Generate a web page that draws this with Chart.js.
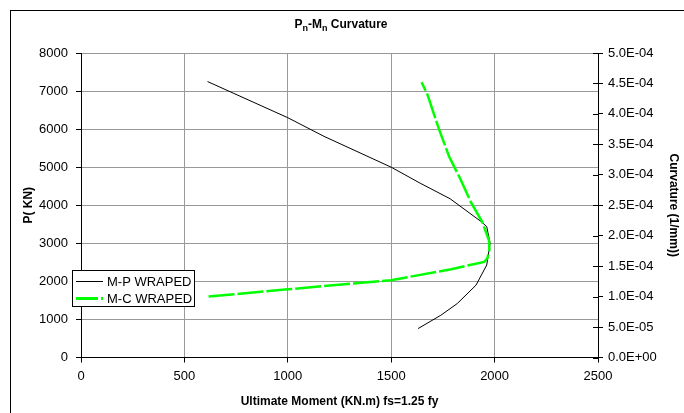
<!DOCTYPE html>
<html>
<head>
<meta charset="utf-8">
<script src="https://cdn.jsdelivr.net/npm/chart.js@4.4.0/dist/chart.umd.min.js"></script>
<style>
  html, body { margin: 0; padding: 0; background: #fff; }
  #wrap { width: 684px; height: 413px; }
</style>
</head>
<body>
<div id="wrap"><canvas id="chart" width="684" height="413"></canvas></div>
<script>
// M-P wraped curve: moment (KN.m) vs axial load P (KN)
const momentMP = [612, 1000, 1175, 1500, 1640, 1785, 1935, 1962, 1978, 1962, 1910, 1820, 1740, 1630];
const loadMP = [7250, 6300, 5810, 5000, 4580, 4170, 3570, 3440, 3000, 2430, 1900, 1420, 1110, 760];

// M-C wraped curve: moment (KN.m) vs curvature (1/mm), right axis
const momentMC = [617, 1000, 1500, 1790, 1950, 1965, 1975, 1973, 1941, 1884, 1836, 1780, 1731, 1675, 1647];
const curvMC = [1.00e-4, 1.12e-4, 1.27e-4, 1.45e-4, 1.57e-4, 1.63e-4, 1.77e-4, 1.92e-4, 2.22e-4, 2.56e-4, 2.92e-4, 3.30e-4, 3.75e-4, 4.32e-4, 4.52e-4];

const seriesNames = ['M-P WRAPED', 'M-C WRAPED'];
const xTitle = 'Ultimate Moment (KN.m) fs=1.25 fy';
const yTitle = 'P( KN)';
const y2Title = 'Curvature (1/mm))';

const FONT = '"Liberation Sans", Arial, sans-serif';
const GRID = '#999999';
const GREEN = '#00ff00';
const DASH = [26, 3];

// Excel style scientific label, e.g. 5.0E-04
function sciLabel(v) {
  if (Math.abs(v) < 1e-12) return '0.0E+00';
  const exp = Math.floor(Math.log10(Math.abs(v)) + 1e-9);
  const mant = v / Math.pow(10, exp);
  const sign = exp < 0 ? '-' : '+';
  return mant.toFixed(1) + 'E' + sign + String(Math.abs(exp)).padStart(2, '0');
}

// Frame, title with subscripts, cross tick marks and the legend box
const decorPlugin = {
  id: 'decor',
  beforeDraw(chart) {
    const ctx = chart.ctx;
    ctx.save();
    ctx.fillStyle = '#fff';
    ctx.fillRect(0, 0, chart.width, chart.height);
    ctx.restore();
  },
  afterDraw(chart) {
    const ctx = chart.ctx;
    ctx.save();
    ctx.strokeStyle = '#000';
    ctx.lineWidth = 1;
    ctx.strokeRect(10.5, 10.5, 900, 900);

    // right axis ticks cross the axis line
    const y2 = chart.scales.y2;
    ctx.beginPath();
    y2.ticks.forEach(t => {
      const py = Math.round(y2.getPixelForValue(t.value)) + 0.5;
      ctx.moveTo(y2.left - 5, py);
      ctx.lineTo(y2.left, py);
    });
    ctx.stroke();

    // title "Pn-Mn Curvature"
    const parts = [['P', 12, 0], ['n', 9, 3], ['-M', 12, 0], ['n', 9, 3], [' Curvature', 12, 0]];
    let total = 0;
    parts.forEach(p => {
      ctx.font = 'bold ' + p[1] + 'px ' + FONT;
      total += ctx.measureText(p[0]).width;
    });
    let x = 341 - total / 2;
    ctx.fillStyle = '#000';
    ctx.textBaseline = 'alphabetic';
    parts.forEach(p => {
      ctx.font = 'bold ' + p[1] + 'px ' + FONT;
      ctx.fillText(p[0], x, 28 + p[2]);
      x += ctx.measureText(p[0]).width;
    });

    // legend
    ctx.fillStyle = '#fff';
    ctx.fillRect(72.5, 270.5, 122, 36);
    ctx.strokeRect(72.5, 270.5, 122, 36);
    ctx.font = '13px ' + FONT;
    ctx.textBaseline = 'middle';
    ctx.fillStyle = '#000';

    ctx.beginPath();
    ctx.moveTo(76, 281.5);
    ctx.lineTo(103, 281.5);
    ctx.strokeStyle = '#000';
    ctx.lineWidth = 1;
    ctx.stroke();
    ctx.fillText(seriesNames[0], 107, 282);

    ctx.beginPath();
    ctx.setLineDash([22, 3]);
    ctx.moveTo(76, 298.5);
    ctx.lineTo(103, 298.5);
    ctx.strokeStyle = GREEN;
    ctx.lineWidth = 3;
    ctx.stroke();
    ctx.setLineDash([]);
    ctx.fillText(seriesNames[1], 107, 299);
    ctx.restore();
  }
};

const ctx = document.getElementById('chart').getContext('2d');
new Chart(ctx, {
  type: 'line',
  data: {
    datasets: [
      {
        label: seriesNames[0],
        data: momentMP.map((m, i) => ({ x: m, y: loadMP[i] })),
        borderColor: '#000',
        borderWidth: 1,
        pointRadius: 0,
        tension: 0,
        yAxisID: 'y',
        order: 1
      },
      {
        label: seriesNames[1],
        data: momentMC.map((m, i) => ({ x: m, y: curvMC[i] })),
        borderColor: GREEN,
        borderWidth: 2.5,
        borderDash: DASH,
        pointRadius: 0,
        tension: 0,
        yAxisID: 'y2',
        order: 0
      }
    ]
  },
  options: {
    responsive: false,
    animation: false,
    devicePixelRatio: 1,
    layout: { padding: { top: 53, left: 0, right: 0, bottom: 0 } },
    plugins: {
      legend: { display: false },
      title: { display: false },
      tooltip: { enabled: false }
    },
    scales: {
      x: {
        type: 'linear',
        min: 0,
        max: 2500,
        afterFit(scale) { scale.height = 55.5; },
        ticks: {
          stepSize: 500,
          padding: 6,
          color: '#000',
          font: { family: FONT, size: 13 },
          maxRotation: 0,
          callback: v => String(v)
        },
        grid: {
          color: c => (c.tick && (c.tick.value === 0 || c.tick.value === 2500)) ? 'rgba(0,0,0,0)' : GRID,
          tickColor: '#000',
          tickLength: 5
        },
        border: { color: '#000', width: 1 },
        title: {
          display: true,
          text: xTitle,
          color: '#000',
          font: { family: FONT, size: 12, weight: 'bold' },
          padding: { top: 4, bottom: 4 }
        }
      },
      y: {
        type: 'linear',
        position: 'left',
        min: 0,
        max: 8000,
        afterFit(scale) { scale.width = 81; },
        ticks: {
          stepSize: 1000,
          padding: 8,
          color: '#000',
          font: { family: FONT, size: 13 },
          callback: v => String(v)
        },
        grid: {
          color: c => (c.tick && c.tick.value === 0) ? 'rgba(0,0,0,0)' : GRID,
          tickColor: '#000',
          tickLength: 5
        },
        border: { color: '#000', width: 1 },
        title: {
          display: true,
          text: yTitle,
          color: '#000',
          font: { family: FONT, size: 12, weight: 'bold' },
          padding: { top: 21, bottom: 21 }
        }
      },
      y2: {
        type: 'linear',
        position: 'right',
        min: 0,
        max: 5e-4,
        afterFit(scale) { scale.width = 86; },
        ticks: {
          stepSize: 5e-5,
          padding: 5,
          color: '#000',
          font: { family: FONT, size: 13 },
          callback: v => sciLabel(v)
        },
        grid: {
          drawOnChartArea: false,
          tickColor: '#000',
          tickLength: 5
        },
        border: { color: '#000', width: 1 },
        title: {
          display: true,
          text: y2Title,
          color: '#000',
          font: { family: FONT, size: 12, weight: 'bold' },
          padding: { top: 3, bottom: 3 }
        }
      }
    }
  },
  plugins: [decorPlugin]
});
</script>
</body>
</html>
